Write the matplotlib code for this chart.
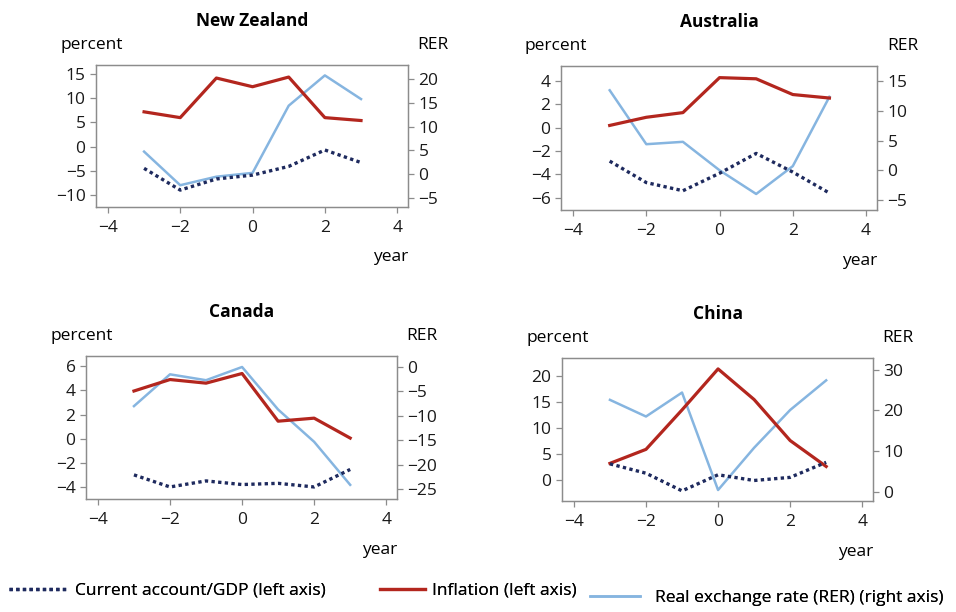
import numpy as np
import matplotlib.pyplot as plt
from matplotlib.lines import Line2D

plt.rcParams['font.family'] = ['Open Sans', 'DejaVu Sans']

years = [-3, -2, -1, 0, 1, 2, 3]

countries = ['New Zealand', 'Australia', 'Canada', 'China']

# current account / GDP (left axis)
ca_nz = [-4.5, -9.0, -6.7, -5.9, -4.1, -0.7, -3.3]
ca_au = [-2.86, -4.7, -5.4, -3.9, -2.2, -3.8, -5.6]
ca_ca = [-3.0, -4.0, -3.5, -3.8, -3.7, -4.0, -2.55]
ca_cn = [3.1, 1.3, -2.1, 1.0, -0.1, 0.5, 3.4]

# inflation (left axis)
inf_nz = [7.2, 6.0, 14.2, 12.4, 14.4, 6.0, 5.4]
inf_au = [0.2, 0.9, 1.3, 4.3, 4.2, 2.85, 2.55]
inf_ca = [3.95, 4.9, 4.6, 5.4, 1.45, 1.7, 0.05]
inf_cn = [3.2, 5.9, 13.5, 21.4, 15.5, 7.6, 2.6]

# real exchange rate (right axis)
rer_nz = [4.7, -2.4, -0.6, 0.2, 14.4, 20.8, 15.8]
rer_au = [13.5, 4.4, 4.8, 0.0, -4.0, 0.7, 12.4]
rer_ca = [-8.0, -1.5, -2.7, 0.0, -8.7, -15.3, -24.1]
rer_cn = [22.6, 18.5, 24.4, 0.4, 10.8, 20.1, 27.4]

ca_all = [ca_nz, ca_au, ca_ca, ca_cn]
inf_all = [inf_nz, inf_au, inf_ca, inf_cn]
rer_all = [rer_nz, rer_au, rer_ca, rer_cn]

left_ticks = [[-10, -5, 0, 5, 10, 15], [-6, -4, -2, 0, 2, 4],
              [-4, -2, 0, 2, 4, 6], [0, 5, 10, 15, 20]]
left_lims = [(-12.5, 16.9), (-7.05, 5.3), (-5.0, 6.85), (-4.05, 23.5)]
right_ticks = [[-5, 0, 5, 10, 15, 20], [-5, 0, 5, 10, 15],
               [-25, -20, -15, -10, -5, 0], [0, 10, 20, 30]]
right_lims = [(-7.0, 23.0), (-6.7, 17.6), (-27.0, 2.25), (-2.3, 32.9)]

positions = [[0.1004, 0.6618, 0.3264, 0.232],
             [0.5868, 0.6569, 0.3306, 0.2353],
             [0.0900, 0.1846, 0.3253, 0.2337],
             [0.5879, 0.1814, 0.3253, 0.2336]]

red = '#b3261e'
blue = '#86b5e0'
navy = '#1e2a5e'
spine_col = '#8c8c8c'
fs = 12.5

fig = plt.figure(figsize=(9.56, 6.12), dpi=100)

for i in range(4):
    ax = fig.add_axes(positions[i])
    ax2 = ax.twinx()
    ax.plot(years, inf_all[i], color=red, lw=2.3, zorder=3)
    ax.plot(years, ca_all[i], color=navy, lw=2.4, ls=(0, (1.0, 1.0)), zorder=3)
    ax2.plot(years, rer_all[i], color=blue, lw=1.8)
    ax.set_zorder(ax2.get_zorder() + 1)
    ax.patch.set_visible(False)

    ax.set_xlim(-4.33, 4.3)
    ax.set_xticks([-4, -2, 0, 2, 4])
    ax.set_ylim(*left_lims[i])
    ax.set_yticks(left_ticks[i])
    ax2.set_ylim(*right_lims[i])
    ax2.set_yticks(right_ticks[i])

    for a in (ax, ax2):
        for s in a.spines.values():
            s.set_color(spine_col)
            s.set_linewidth(0.9)
        a.tick_params(colors=spine_col, labelcolor='#1a1a1a', labelsize=fs,
                      length=4.5, width=0.9, direction='out', pad=3)
    ax.tick_params(axis='x', pad=5)

    ax.set_title(countries[i], fontsize=12.5, fontweight='bold', pad=28)
    ax.text(-0.115, 1.14, 'percent', transform=ax.transAxes, fontsize=fs,
            ha='left', va='center')
    ax.text(1.13, 1.14, 'RER', transform=ax.transAxes, fontsize=fs,
            ha='right', va='center')
    ax.text(1.0, -0.355, 'year', transform=ax.transAxes, fontsize=fs,
            ha='right', va='center')

handles = [Line2D([], [], color=navy, lw=2.4, ls=(0, (1.0, 1.0))),
           Line2D([], [], color=red, lw=2.3),
           Line2D([], [], color=blue, lw=1.8)]
labels = ['Current account/GDP (left axis)', 'Inflation (left axis)',
          'Real exchange rate (RER) (right axis)']
anchors = [(0.002, 0.010), (0.39, 0.010), (0.61, -0.002)]
hlens = [3.4, 2.6, 2.9]
hpads = [0.4, 0.4, 0.85]
for h, lab, anc, hl, hp in zip(handles, labels, anchors, hlens, hpads):
    lg = fig.legend([h], [lab], loc='lower left', frameon=False,
                    bbox_to_anchor=anc, fontsize=fs, handlelength=hl,
                    handletextpad=hp, borderaxespad=0.0, borderpad=0.4)
    fig.add_artist(lg)

fig.savefig('out.png', dpi=100)
